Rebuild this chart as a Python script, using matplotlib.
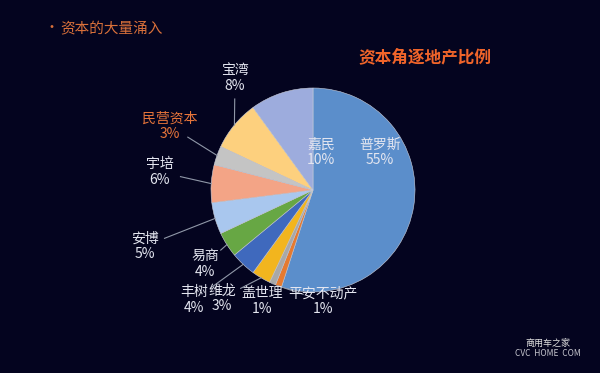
import numpy as np
import matplotlib
matplotlib.use("Agg")
import matplotlib.pyplot as plt

plt.rcParams['font.family'] = ['Noto Sans CJK SC', 'DejaVu Sans']

labels = ['普罗斯', '平安不动产', '盖世理', '维龙', '丰树', '易商', '安博', '宇培', '民营资本', '宝湾', '嘉民']
values = [55, 1, 1, 3, 4, 4, 5, 6, 3, 8, 10]
colors = ['#5B8ECB', '#E57A30', '#A8A8A8', '#F2B51E', '#3F69BD', '#67A744',
          '#A9C7EE', '#F3A486', '#C4C4C4', '#FDD07E', '#9DACDD']

# label positions (pixel coords, y from top) and whether to draw a leader line
label_pos = {
    '普罗斯': (380, 152, False),
    '嘉民': (321, 152, False),
    '宝湾': (235, 78, True),
    '民营资本': (170, 126, True),
    '宇培': (160, 172, True),
    '安博': (145, 246, True),
    '易商': (205, 264, True),
    '丰树': (194, 300, True),
    '维龙': (222, 298, True),
    '盖世理': (262, 301, True),
    '平安不动产': (323, 301, True),
}

W, H = 600, 373
fig = plt.figure(figsize=(6.0, 3.73), dpi=100)
fig.patch.set_facecolor('#04041F')
ax = fig.add_axes([0, 0, 1, 1])
ax.set_facecolor('#04041F')

cx, cy, R = 313, H - 190, 102
wedges, _ = ax.pie(values, colors=colors, startangle=90, counterclock=False,
                   center=(cx, cy), radius=R, frame=True,
                   wedgeprops=dict(edgecolor='#C8CCD8', linewidth=0.4))
ax.set_xlim(0, W)
ax.set_ylim(0, H)
ax.set_aspect('auto')
ax.axis('off')

txt_color = '#E4E6F0'
for w, lab, v in zip(wedges, labels, values):
    lx, ly, line = label_pos[lab]
    ly = H - ly
    col = '#E8753A' if lab == '民营资本' else txt_color
    ax.text(lx, ly, f'{lab}\n{v}%', ha='center', va='center', color=col,
            fontsize=10, linespacing=1.12)
    if line:
        ang = np.deg2rad((w.theta1 + w.theta2) / 2)
        ex, ey = cx + R * np.cos(ang), cy + R * np.sin(ang)
        dx, dy = ex - lx, ey - ly
        d = np.hypot(dx, dy)
        sx, sy = lx + dx / d * 21, ly + dy / d * 21
        ax.plot([sx, ex], [sy, ey], color='#9098A8', lw=0.8)

fig.text(45 / W, 1 - 28 / H, '•', color='#D9703A', fontsize=10, ha='left', va='center')
fig.text(60 / W, 1 - 28 / H, '资本的大量涌入', color='#D9703A', fontsize=10.5,
         ha='left', va='center')
fig.text(425 / W, 1 - 57 / H, '资本角逐地产比例', color='#F0642A', fontsize=12,
         fontweight='bold', ha='center', va='center')

# watermark
fig.text(548 / W, 1 - 354 / H, 'CVC  HOME  COM', color='#C8C8D0', fontsize=6,
         ha='center', va='center')
fig.text(548 / W, 1 - 343 / H, '商用车之家', color='#E0E0E0', fontsize=6.5,
         ha='center', va='center')

fig.savefig('out.png', dpi=100, facecolor=fig.get_facecolor())
